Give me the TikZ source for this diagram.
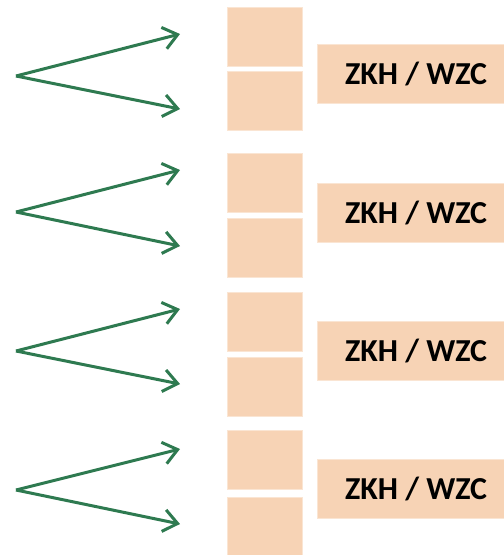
\documentclass[tikz,border=0pt]{standalone}
\usepackage{fontspec}
\setmainfont{Carlito}
\usetikzlibrary{arrows.meta}
\definecolor{peach}{RGB}{247,211,181}
\definecolor{arrgreen}{RGB}{46,122,80}
\tikzset{
  sq/.style={fill=peach, draw=peach!60!white, line width=0.8pt, minimum width=75pt, minimum height=59pt, inner sep=0pt, outer sep=0pt},
  lbl/.style={fill=peach, draw=peach!60!white, line width=0.8pt, minimum width=198pt, minimum height=59pt, inner sep=0pt, outer sep=0pt, font=\fontsize{32}{32}\selectfont\bfseries, text=black},
  arr/.style={draw=arrgreen, line width=3pt, -{Straight Barb[length=14pt,width=22pt,line width=3pt]}},
}
\begin{document}
\begin{tikzpicture}[x=1pt,y=-1pt]
\useasboundingbox (0,0) rectangle (504,555);
\clip (0,0) rectangle (504,555);
% group 1
\node[sq] (s1a) at (264.5,37) {};
\node[sq] (s1b) at (264.5,101) {};
\node[lbl, anchor=west] (l1) at (317,73.5) {ZKH / WZC};
\coordinate (o1) at (16,76);
\coordinate (t1a) at (180,34);
\coordinate (t1b) at (180,109);
\draw[arr] (o1) -- (t1a);
\draw[arr] (o1) -- (t1b);
% group 2
\node[sq] (s2a) at (264.5,183) {};
\node[sq] (s2b) at (264.5,248) {};
\node[lbl, anchor=west] (l2) at (317,212.5) {ZKH / WZC};
\coordinate (o2) at (16,212);
\coordinate (t2a) at (180,170);
\coordinate (t2b) at (180,246);
\draw[arr] (o2) -- (t2a);
\draw[arr] (o2) -- (t2b);
% group 3
\node[sq] (s3a) at (264.5,322) {};
\node[sq] (s3b) at (264.5,386.5) {};
\node[lbl, anchor=west] (l3) at (317,350.5) {ZKH / WZC};
\coordinate (o3) at (16,351);
\coordinate (t3a) at (180,309);
\coordinate (t3b) at (180,384);
\draw[arr] (o3) -- (t3a);
\draw[arr] (o3) -- (t3b);
% group 4
\node[sq] (s4a) at (264.5,460) {};
\node[sq] (s4b) at (264.5,526.5) {};
\node[lbl, anchor=west] (l4) at (317,488.5) {ZKH / WZC};
\coordinate (o4) at (16,490);
\coordinate (t4a) at (180,449);
\coordinate (t4b) at (180,524);
\draw[arr] (o4) -- (t4a);
\draw[arr] (o4) -- (t4b);
\end{tikzpicture}
\end{document}
